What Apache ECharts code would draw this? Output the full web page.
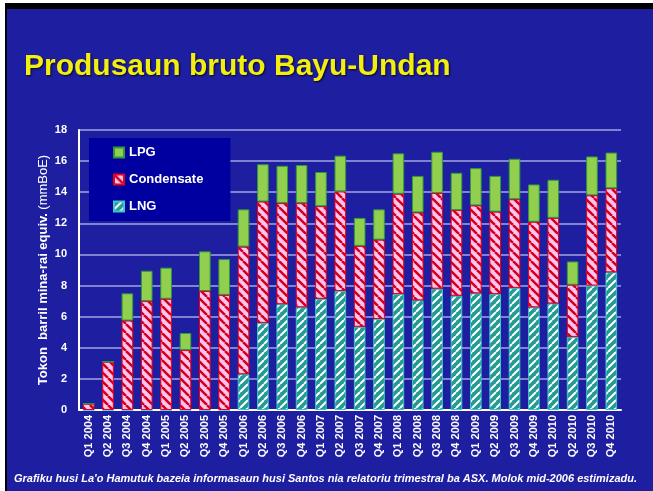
<!DOCTYPE html>
<html>
<head>
<meta charset="utf-8">
<script src="https://cdn.jsdelivr.net/npm/echarts@6/dist/echarts.min.js"></script>
<style>
    html, body { margin: 0; padding: 0; background: #fff; }
    #chart { width: 653px; height: 491px; }
</style>
</head>
<body>
<div id="chart"></div>
<script>
// quarters
const categories = [
    'Q1 2004', 'Q2 2004', 'Q3 2004', 'Q4 2004',
    'Q1 2005', 'Q2 2005', 'Q3 2005', 'Q4 2005',
    'Q1 2006', 'Q2 2006', 'Q3 2006', 'Q4 2006',
    'Q1 2007', 'Q2 2007', 'Q3 2007', 'Q4 2007',
    'Q1 2008', 'Q2 2008', 'Q3 2008', 'Q4 2008',
    'Q1 2009', 'Q2 2009', 'Q3 2009', 'Q4 2009',
    'Q1 2010', 'Q2 2010', 'Q3 2010', 'Q4 2010'
];
// million barrels of oil equivalent, stacked LNG -> Condensate -> LPG
const lngValues = [
    0, 0, 0, 0, 0, 0, 0, 0,
    2.3, 5.6, 6.8, 6.6,
    7.15, 7.65, 5.35, 5.85,
    7.45, 7.05, 7.8, 7.35,
    7.5, 7.45, 7.85, 6.6,
    6.85, 4.7, 8.0, 8.85
];
const condensateValues = [
    0.4, 3.1, 5.75, 7.0, 7.15, 3.85, 7.65, 7.4,
    8.2, 7.8, 6.5, 6.7,
    5.95, 6.4, 5.2, 5.1,
    6.45, 5.65, 6.15, 5.5,
    5.65, 5.3, 5.7, 5.5,
    5.5, 3.35, 5.8, 5.4
];
const lpgValues = [
    0, 0, 1.75, 1.95, 2.0, 1.1, 2.55, 2.3,
    2.4, 2.4, 2.4, 2.45,
    2.2, 2.3, 1.8, 1.95,
    2.6, 2.35, 2.65, 2.4,
    2.4, 2.3, 2.6, 2.4,
    2.45, 1.5, 2.5, 2.3
];
const legendNames = ['LPG', 'Condensate', 'LNG'];

// diagonal stripe tile for the hatched fills
function stripes(bg, fg, dir, size, lineWidth) {
    const c = document.createElement('canvas');
    c.width = size;
    c.height = size;
    const ctx = c.getContext('2d');
    ctx.fillStyle = bg;
    ctx.fillRect(0, 0, size, size);
    ctx.strokeStyle = fg;
    ctx.lineWidth = lineWidth;
    ctx.beginPath();
    for (let k = -1; k <= 1; k++) {
        if (dir === '/') {
            ctx.moveTo(k * size, size);
            ctx.lineTo(k * size + size, 0);
        } else {
            ctx.moveTo(k * size, 0);
            ctx.lineTo(k * size + size, size);
        }
    }
    ctx.stroke();
    return { image: c, repeat: 'repeat' };
}

const lngFill = stripes('#249a92', '#ffffff', '/', 8, 2);
const condFill = stripes('#ffc4f0', '#d4001a', '\\', 9, 2.5);

const myChart = echarts.init(document.getElementById('chart'));
myChart.setOption({
    backgroundColor: '#1e1ea0',
    animation: false,
    title: [
        {
            text: 'Produsaun bruto Bayu-Undan',
            left: 19,
            top: 47,
            textStyle: {
                color: '#f2ee10',
                fontFamily: 'Liberation Sans',
                fontWeight: 'bold',
                fontSize: 30,
                textShadowColor: 'rgba(0,0,0,0.8)',
                textShadowBlur: 2,
                textShadowOffsetX: 1,
                textShadowOffsetY: 1
            }
        },
        {
            text: "Grafiku husi La'o Hamutuk bazeia informasaun husi Santos nia relatoriu trimestral ba ASX. Molok mid-2006 estimizadu.",
            left: 9,
            top: 468,
            textStyle: {
                color: '#ffffff',
                fontFamily: 'Liberation Sans',
                fontStyle: 'italic',
                fontWeight: 'bold',
                fontSize: 11
            }
        }
    ],
    graphic: [
        { type: 'rect', shape: { x: 0, y: 0, width: 653, height: 3 }, style: { fill: '#ffffff' } },
        { type: 'rect', shape: { x: 0, y: 0, width: 5, height: 491 }, style: { fill: '#ffffff' } },
        { type: 'rect', shape: { x: 5, y: 3, width: 648, height: 6 }, style: { fill: '#000000' } },
        { type: 'rect', shape: { x: 5, y: 3, width: 2, height: 488 }, style: { fill: '#000000' } }
    ],
    legend: {
        data: legendNames,
        orient: 'vertical',
        left: 89,
        top: 138,
        padding: [8, 27, 8, 24],
        itemGap: 14,
        itemWidth: 10,
        itemHeight: 10,
        icon: 'rect',
        backgroundColor: '#0000a0',
        textStyle: {
            color: '#ffffff',
            fontFamily: 'Liberation Sans',
            fontWeight: 'bold',
            fontSize: 13
        }
    },
    grid: {
        left: 79,
        top: 130,
        width: 542,
        height: 280
    },
    xAxis: {
        type: 'category',
        data: categories,
        axisLine: { lineStyle: { color: '#ffffff', width: 2 } },
        axisTick: { show: false },
        axisLabel: {
            rotate: 90,
            interval: 0,
            margin: 5,
            color: '#ffffff',
            fontFamily: 'Liberation Sans',
            fontWeight: 'bold',
            fontSize: 11
        }
    },
    yAxis: {
        type: 'value',
        min: 0,
        max: 18,
        interval: 2,
        name: '{b|Tokon  barril mina-rai equiv.} {n|(mmBoE)}',
        nameLocation: 'middle',
        nameGap: 29,
        nameMoveOverlap: false,
        nameTextStyle: {
            color: '#ffffff',
            rich: {
                b: { color: '#ffffff', fontFamily: 'Liberation Sans', fontWeight: 'bold', fontSize: 13 },
                n: { color: '#ffffff', fontFamily: 'Liberation Sans', fontSize: 13 }
            }
        },
        axisLine: { show: true, lineStyle: { color: '#ffffff', width: 2 } },
        axisTick: { show: false },
        axisLabel: {
            margin: 12,
            color: '#ffffff',
            fontFamily: 'Liberation Sans',
            fontWeight: 'bold',
            fontSize: 11
        },
        splitLine: { lineStyle: { color: '#a4a4e4', width: 1.5 } }
    },
    series: [
        {
            name: 'LNG',
            type: 'bar',
            stack: 'total',
            barWidth: '60%',
            data: lngValues,
            itemStyle: { color: lngFill, borderColor: '#3cc6cc', borderWidth: 1 }
        },
        {
            name: 'Condensate',
            type: 'bar',
            stack: 'total',
            data: condensateValues,
            itemStyle: { color: condFill, borderColor: '#e8001c', borderWidth: 1 }
        },
        {
            name: 'LPG',
            type: 'bar',
            stack: 'total',
            data: lpgValues,
            itemStyle: { color: '#92cf4e', borderColor: '#2f9a3a', borderWidth: 1 }
        }
    ]
});
</script>
</body>
</html>
